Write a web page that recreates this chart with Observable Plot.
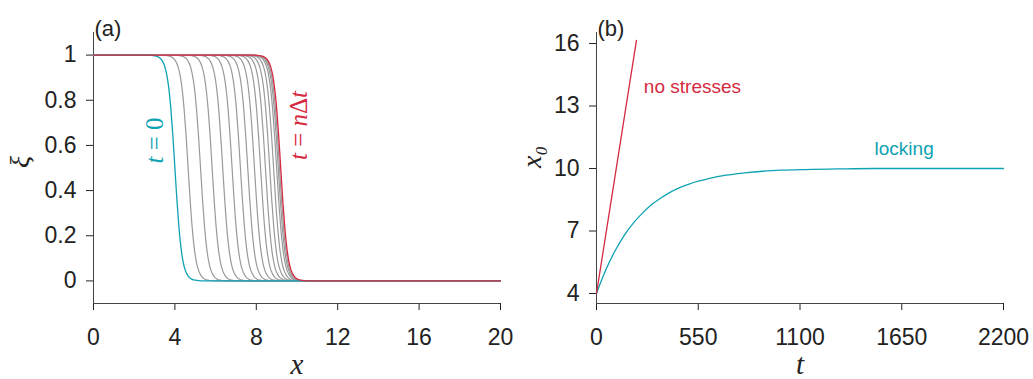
<!DOCTYPE html>
<html><head><meta charset="utf-8">
<script src="https://cdn.jsdelivr.net/npm/d3@7"></script>
<script src="https://cdn.jsdelivr.net/npm/@observablehq/plot@0.6"></script>
<style>
body{margin:0;background:#fff;}
#wrap{display:flex;width:1033px;height:379px;overflow:hidden;}
svg{overflow:visible;}
</style></head><body><div id="wrap"></div>
<script>
// ---- panel (a) data ----
const xTicksA = [0, 4, 8, 12, 16, 20];
const yTicksA = [0, 0.2, 0.4, 0.6, 0.8, 1];
const initialFront = 4.0;
const greyFronts = [4.65, 5.26, 5.83, 6.35, 6.81, 7.22, 7.58, 7.91, 8.21, 8.45, 8.66, 8.85, 9.0, 9.08, 9.14];
const finalFront = 9.2;
const profileOffset = [-1.3, -1.0, -0.8, -0.7, -0.6, -0.5, -0.4, -0.3, -0.2, -0.1, 0, 0.1, 0.2, 0.3, 0.4, 0.5, 0.6, 0.7, 0.8, 1.0, 1.3];
const profileValue  = [1, 0.997, 0.991, 0.984, 0.971, 0.95, 0.913, 0.854, 0.764, 0.643, 0.5, 0.357, 0.236, 0.146, 0.087, 0.05, 0.029, 0.016, 0.009, 0.003, 0];

// ---- panel (b) data ----
const xTicksB = [0, 550, 1100, 1650, 2200];
const yTicksB = [4, 7, 10, 13, 16];
const noStressT  = [0, 216];
const noStressX0 = [4, 16.15];
const lockingT  = [0, 25, 50, 100, 150, 200, 250, 300, 350, 400, 450, 500, 550, 600, 700, 800, 900, 1000, 1100, 1300, 1500, 2200];
const lockingX0 = [4, 4.59, 5.13, 6.04, 6.79, 7.39, 7.87, 8.28, 8.6, 8.87, 9.08, 9.25, 9.39, 9.5, 9.68, 9.79, 9.87, 9.92, 9.95, 9.98, 10, 10];

const CYAN = "#0fa2b3", RED = "#d62a40", GREY = "#9a9a9a";
const SANS = "Liberation Sans, Arial, Helvetica, sans-serif";
const SERIF = "Liberation Serif, Times New Roman, serif";

function profileRows(center, id) {
  return [{x: 0, y: 1, id}]
    .concat(profileOffset.map((d, i) => ({x: center + d, y: profileValue[i], id})))
    .concat([{x: 20, y: 0, id}]);
}
const greyRows = greyFronts.flatMap((c, i) => profileRows(c, i));
const cyanRows = profileRows(initialFront, "c");
const redRows = profileRows(finalFront, "r");

const noStressRows = noStressT.map((t, i) => ({t, x0: noStressX0[i]}));
const lockingRows = lockingT.map((t, i) => ({t, x0: lockingX0[i]}));

const baseStyle = {fontFamily: SANS, fontSize: "23px", color: "#222", background: "#fff", overflow: "visible"};

const chartA = Plot.plot({
  width: 516, height: 379, marginLeft: 93, marginRight: 16, marginTop: 32, marginBottom: 76,
  style: baseStyle,
  x: {domain: [0, 20], ticks: xTicksA, tickSize: 7, tickPadding: 18, label: null},
  y: {domain: [-0.1, 1.1], ticks: yTicksA, tickSize: 7, tickPadding: 10, label: null, tickFormat: d => String(d)},
  marks: [
    Plot.ruleX([0], {stroke: "#444"}),
    Plot.ruleY([-0.1], {stroke: "#444"}),
    Plot.line(greyRows, {x: "x", y: "y", z: "id", stroke: GREY, strokeWidth: 1.2, curve: "monotone-x"}),
    Plot.line(cyanRows, {x: "x", y: "y", stroke: CYAN, strokeWidth: 1.3, curve: "monotone-x"}),
    Plot.line(redRows, {x: "x", y: "y", stroke: RED, strokeWidth: 1.3, curve: "monotone-x"}),
    Plot.text(["(a)"], {text: d => d, frameAnchor: "top-left", dx: 1, dy: -12, textAnchor: "start", fontSize: 22, fill: "#222"}),
    Plot.text(["ξ"], {text: d => d, frameAnchor: "left", dx: -73, rotate: -90, fontFamily: SERIF, fontStyle: "italic", fontSize: 28, fill: "#222"}),
    Plot.text(["x"], {text: d => d, frameAnchor: "bottom", dy: 70, fontFamily: SERIF, fontStyle: "italic", fontSize: 29, fill: "#222"})
  ]
});

const chartB = Plot.plot({
  width: 517, height: 379, marginLeft: 80, marginRight: 30, marginTop: 32, marginBottom: 76,
  style: baseStyle,
  x: {domain: [0, 2200], ticks: xTicksB, tickSize: 7, tickPadding: 18, label: null, tickFormat: d => String(d)},
  y: {domain: [3.52, 16.53], ticks: yTicksB, tickSize: 7, tickPadding: 10, label: null, tickFormat: d => String(d)},
  marks: [
    Plot.ruleX([0], {stroke: "#444"}),
    Plot.ruleY([3.52], {stroke: "#444"}),
    Plot.line(lockingRows, {x: "t", y: "x0", stroke: CYAN, strokeWidth: 1.3, curve: "monotone-x"}),
    Plot.line(noStressRows, {x: "t", y: "x0", stroke: RED, strokeWidth: 1.3}),
    Plot.text(["no stresses"], {text: d => d, x: 256, y: 13.94, textAnchor: "start", fontSize: 19, fill: RED}),
    Plot.text(["locking"], {text: d => d, x: 1503, y: 10.96, textAnchor: "start", fontSize: 19, fill: CYAN}),
    Plot.text(["(b)"], {text: d => d, frameAnchor: "top-left", dx: 1, dy: -12, textAnchor: "start", fontSize: 22, fill: "#222"}),
    Plot.text(["x₀"], {text: d => d, frameAnchor: "left", dx: -64, rotate: -90, fontFamily: SERIF, fontStyle: "italic", fontSize: 28, fill: "#222"}),
    Plot.text(["t"], {text: d => d, frameAnchor: "bottom", dy: 70, fontFamily: SERIF, fontStyle: "italic", fontSize: 29, fill: "#222"})
  ]
});

// rotated math labels with mixed italic/upright pieces
function mathLabel(svg, plot, xv, yv, parts, color) {
  const px = plot.scale("x").apply(xv), py = plot.scale("y").apply(yv);
  const t = d3.select(svg).append("text")
    .attr("transform", `translate(${px},${py}) rotate(-90)`)
    .attr("text-anchor", "middle").attr("dominant-baseline", "central")
    .attr("font-family", SERIF).attr("font-size", 25).attr("fill", color);
  parts.forEach(([s, it]) => t.append("tspan").attr("font-style", it ? "italic" : "normal").text(s));
}
mathLabel(chartA, chartA, 3.02, 0.62, [["t", true], [" = 0", false]], CYAN);
mathLabel(chartA, chartA, 10.05, 0.686, [["t", true], [" = ", false], ["n", true], ["Δ", false], ["t", true]], RED);

document.getElementById("wrap").append(chartA, chartB);
</script></body></html>
